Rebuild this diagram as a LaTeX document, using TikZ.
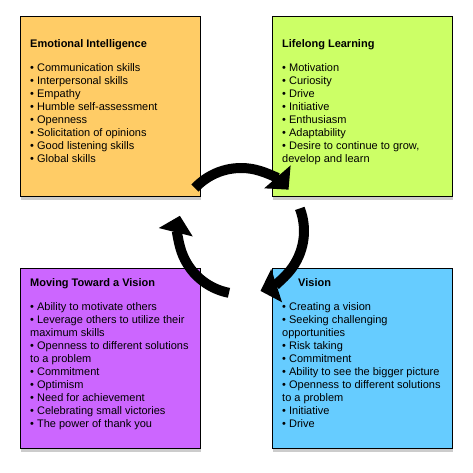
\documentclass[tikz,border=0pt]{standalone}
\usepackage{fontspec}
\setmainfont{Liberation Sans}
\usetikzlibrary{arrows.meta,shadows}
\definecolor{eiorange}{HTML}{FFCC66}
\definecolor{llgreen}{HTML}{CCFF66}
\definecolor{mvpurple}{HTML}{CC66FF}
\definecolor{vsblue}{HTML}{66CCFF}
\begin{document}
\begin{tikzpicture}[x=1pt,y=1pt,
  card/.style={draw=black,line width=1.3pt,minimum width=180pt,minimum height=180pt,
    inner sep=0pt,anchor=north west,
    drop shadow={shadow xshift=0.5pt,shadow yshift=-3pt,opacity=0.4}},
  cardtext/.style={anchor=north west,align=left,inner sep=0pt,
    font=\fontsize{11}{13}\selectfont},
  loopline/.style={line width=10pt,-{Triangle[length=17pt,width=34pt]}}]
\useasboundingbox (0,0) rectangle (473,-473);
% the four cards
\node[card,fill=eiorange] (ei) at (20,-16) {};
\node[card,fill=llgreen] (ll) at (272,-16) {};
\node[card,fill=mvpurple] (mv) at (20,-268) {};
\node[card,fill=vsblue] (vs) at (272,-268) {};
% card texts
\node[cardtext] (eitext) at ([shift={(10,-23)}]ei.north west) {\textbf{Emotional Intelligence}\\[11pt]
• Communication skills\\ • Interpersonal skills\\ • Empathy\\ • Humble self-assessment\\
• Openness\\ • Solicitation of opinions\\ • Good listening skills\\ • Global skills};
\node[cardtext] (lltext) at ([shift={(10,-23)}]ll.north west) {\textbf{Lifelong Learning}\\[11pt]
• Motivation\\ • Curiosity\\ • Drive\\ • Initiative\\ • Enthusiasm\\ • Adaptability\\
• Desire to continue to grow,\\ develop and learn};
\node[cardtext] (mvtext) at ([shift={(10,-10)}]mv.north west) {\textbf{Moving Toward a Vision}\\[11pt]
• Ability to motivate others\\ • Leverage others to utilize their\\ maximum skills\\
• Openness to different solutions\\ to a problem\\ • Commitment\\ • Optimism\\
• Need for achievement\\ • Celebrating small victories\\ • The power of thank you};
\node[cardtext] (vstext) at ([shift={(10,-10)}]vs.north west) {\hspace*{16pt}\textbf{Vision}\\[11pt]
• Creating a vision\\ • Seeking challenging\\ opportunities\\ • Risk taking\\ • Commitment\\
• Ability to see the bigger picture\\ • Openness to different solutions\\ to a problem\\
• Initiative\\ • Drive};
% cycle arrows
\coordinate (hub) at (241,-231);
\draw[loopline] ([shift={(137:63)}]hub) arc[start angle=137,end angle=41,radius=63];
\draw[loopline] ([shift={(21:63)}]hub) arc[start angle=21,end angle=-72,radius=63];
\draw[loopline] ([shift={(259:63)}]hub) arc[start angle=259,end angle=166,radius=63];
\end{tikzpicture}
\end{document}
